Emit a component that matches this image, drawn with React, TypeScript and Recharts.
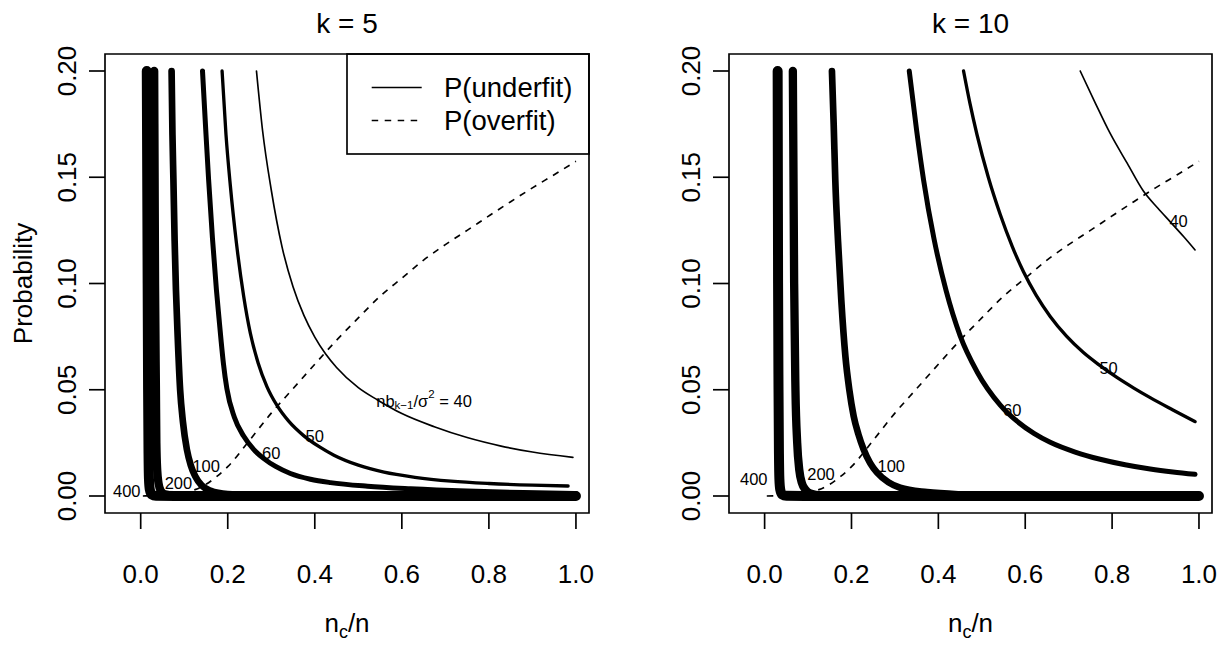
import React from 'react';
import { LineChart, Line, XAxis, YAxis, ReferenceArea, ReferenceDot } from 'recharts';

type Pt = [number, number];

const FONT = '"Liberation Sans", Arial, Helvetica, sans-serif';

const xTicks = [0, 0.2, 0.4, 0.6, 0.8, 1.0];
const yTicks = [0, 0.05, 0.1, 0.15, 0.2];
const xDomain: [number, number] = [-0.082, 1.03];
const yDomain: [number, number] = [-0.008, 0.208];

// P(overfit) - same dashed curve in both panels
const overfit: Pt[] = [
  [0.005, 0], [0.05, 0.0003], [0.1, 0.0016], [0.125, 0.003], [0.15, 0.0055], [0.175, 0.0092],
  [0.2, 0.0138], [0.25, 0.0262], [0.3, 0.039], [0.35, 0.0505], [0.4, 0.062], [0.45, 0.0733],
  [0.5, 0.0838], [0.55, 0.094], [0.6, 0.1025], [0.65, 0.111], [0.7, 0.1183], [0.75, 0.125],
  [0.8, 0.1318], [0.85, 0.1385], [0.9, 0.145], [0.95, 0.1512], [1.0, 0.1575],
];

// k = 5, P(underfit) for nb/sigma^2 = 40 ... 400
const k5u40: Pt[] = [
  [0.266, 0.2], [0.28, 0.172], [0.3, 0.144], [0.325, 0.117], [0.35, 0.0985], [0.375, 0.085],
  [0.4, 0.0748], [0.425, 0.0668], [0.45, 0.0605], [0.5, 0.051], [0.544, 0.0452], [0.6, 0.0388],
  [0.6745, 0.0326], [0.75, 0.0275], [0.828, 0.0235], [0.9, 0.0207], [0.993, 0.0182],
];
const k5u50: Pt[] = [
  [0.187, 0.2], [0.196, 0.17], [0.206, 0.146], [0.22, 0.119], [0.2366, 0.094], [0.252, 0.0765],
  [0.27, 0.0625], [0.29, 0.0515], [0.3135, 0.0425], [0.34, 0.0352], [0.375, 0.0283], [0.41, 0.0232],
  [0.444, 0.0192], [0.5, 0.0145], [0.559, 0.0112], [0.63, 0.0088], [0.713, 0.007], [0.8, 0.0059],
  [0.9, 0.0051], [0.982, 0.0047],
];
const k5u60: Pt[] = [
  [0.142, 0.2], [0.149, 0.174], [0.156, 0.149], [0.165, 0.121], [0.174, 0.097], [0.18, 0.0835],
  [0.185, 0.0725], [0.19, 0.0625], [0.198, 0.0505], [0.215, 0.0372], [0.2365, 0.0282], [0.26, 0.0218],
  [0.283, 0.0176], [0.31, 0.0139], [0.344, 0.0106], [0.39, 0.0079], [0.436, 0.0063], [0.521, 0.0046],
  [0.62, 0.0034], [0.75, 0.0023], [0.88, 0.0016], [1.0, 0.0012],
];
const k5u100: Pt[] = [
  [0.071, 0.2], [0.073, 0.17], [0.0752, 0.1487], [0.078, 0.12], [0.081, 0.097], [0.085, 0.075],
  [0.0906, 0.05], [0.097, 0.035], [0.106, 0.022], [0.115, 0.0145], [0.125, 0.0094], [0.14, 0.005],
  [0.16, 0.0025], [0.2, 0.0009], [0.3, 0.0002], [0.5, 0], [1.0, 0],
];
const k5u200: Pt[] = [
  [0.031, 0.2], [0.032, 0.15], [0.033, 0.1], [0.035, 0.05], [0.036, 0.025], [0.038, 0.012],
  [0.041, 0.006], [0.046, 0.0025], [0.055, 0.0008], [0.075, 0.0002], [0.2, 0], [1.0, 0],
];
const k5u400: Pt[] = [
  [0.014, 0.2], [0.015, 0.15], [0.016, 0.1], [0.017, 0.05], [0.018, 0.02], [0.019, 0.008],
  [0.021, 0.003], [0.025, 0.0008], [0.035, 0.0001], [0.1, 0], [1.0, 0],
];

// k = 10
const k10u40: Pt[] = [
  [0.7266, 0.2], [0.76, 0.1855], [0.7956, 0.1706], [0.835, 0.1565], [0.872, 0.1435],
  [0.905, 0.1355], [0.934, 0.129], [0.965, 0.122], [0.991, 0.1158],
];
const k10u50: Pt[] = [
  [0.458, 0.2], [0.473, 0.1845], [0.489, 0.17], [0.515, 0.15], [0.5425, 0.1325], [0.57, 0.1175],
  [0.596, 0.1055], [0.625, 0.0945], [0.6575, 0.0845], [0.695, 0.0752], [0.734, 0.0675], [0.77, 0.0617],
  [0.811, 0.0558], [0.85, 0.0508], [0.8877, 0.0463], [0.94, 0.0405], [0.991, 0.035],
];
const k10u60: Pt[] = [
  [0.333, 0.2], [0.35, 0.172], [0.366, 0.1487], [0.39, 0.121], [0.418, 0.0965], [0.45, 0.0755],
  [0.489, 0.0585], [0.5425, 0.0428], [0.581, 0.0352], [0.62, 0.0295], [0.6575, 0.0253], [0.715, 0.0207],
  [0.7725, 0.0173], [0.83, 0.0147], [0.8877, 0.0127], [0.94, 0.0113], [0.991, 0.0102],
];
const k10u100: Pt[] = [
  [0.155, 0.2], [0.159, 0.175], [0.1627, 0.1487], [0.169, 0.12], [0.1765, 0.0923], [0.186, 0.0657],
  [0.195, 0.05], [0.205, 0.0376], [0.216, 0.029], [0.228, 0.0219], [0.243, 0.0155], [0.259, 0.011],
  [0.285, 0.0065], [0.312, 0.0039], [0.374, 0.0018], [0.45, 0.0008], [0.6, 0.0002], [1.0, 0],
];
const k10u200: Pt[] = [
  [0.065, 0.2], [0.0665, 0.15], [0.068, 0.1], [0.071, 0.05], [0.075, 0.025], [0.08, 0.012],
  [0.086, 0.006], [0.094, 0.003], [0.105, 0.0012], [0.13, 0.0003], [0.25, 0], [1.0, 0],
];
const k10u400: Pt[] = [
  [0.03, 0.2], [0.0305, 0.15], [0.031, 0.1], [0.032, 0.05], [0.033, 0.02], [0.034, 0.008],
  [0.036, 0.003], [0.04, 0.0008], [0.05, 0.0001], [0.15, 0], [1.0, 0],
];

// curve labels (data coordinates)
const k5Labels = [
  { x: -0.032, y: 0.0023, text: '400' },
  { x: 0.0867, y: 0.0063, text: '200' },
  { x: 0.1505, y: 0.0141, text: '100' },
  { x: 0.3, y: 0.0204, text: '60' },
  { x: 0.4, y: 0.0282, text: '50' },
  { x: 0.651, y: 0.0446, text: 'long40' },
];
const k10Labels = [
  { x: -0.025, y: 0.0078, text: '400' },
  { x: 0.1298, y: 0.0102, text: '200' },
  { x: 0.2916, y: 0.0141, text: '100' },
  { x: 0.57, y: 0.0407, text: '60' },
  { x: 0.792, y: 0.0603, text: '50' },
  { x: 0.953, y: 0.1296, text: '40' },
];

const lineWidth: Record<number, number> = { 40: 1.67, 50: 3.33, 60: 5, 100: 6.67, 200: 8.33, 400: 10 };

const toRows = (pts: Pt[]) => pts.map(([x, y]) => ({ x, y }));

const CurveLabel = ({ cx, cy, text }: any) => {
  if (text === 'long40') {
    return (
      <text x={cx} y={cy} textAnchor="middle" dominantBaseline="central" fontSize={16.5} fontFamily={FONT} fill="#000">
        nb<tspan fontSize={11.5} dy={4}>k−1</tspan>
        <tspan dy={-4}>/σ</tspan>
        <tspan fontSize={11.5} dy={-7}>2</tspan>
        <tspan dy={7}> = 40</tspan>
      </text>
    );
  }
  return (
    <text x={cx} y={cy} textAnchor="middle" dominantBaseline="central" fontSize={16.5} fontFamily={FONT} fill="#000">
      {text}
    </text>
  );
};

const YTick = ({ x, y, payload }: any) => (
  <text x={x} y={y} transform={`rotate(-90, ${x}, ${y})`} textAnchor="middle" fontSize={26} fontFamily={FONT} fill="#000">
    {payload.value.toFixed(2)}
  </text>
);

interface PanelProps {
  curves: { level: number; pts: Pt[] }[];
  labels: { x: number; y: number; text: string }[];
  yAxisWidth: number;
  rightMargin: number;
}

const Panel = ({ curves, labels, yAxisWidth, rightMargin }: PanelProps) => (
  <LineChart width={614} height={645} margin={{ top: 54, right: rightMargin, bottom: 0, left: 0 }}>
    <XAxis
      type="number"
      dataKey="x"
      domain={xDomain}
      ticks={xTicks}
      allowDataOverflow
      height={132}
      axisLine={false}
      tickSize={16}
      tickMargin={36}
      tickLine={{ stroke: '#000', strokeWidth: 1.67 }}
      tick={{ fontSize: 26, fill: '#000', fontFamily: FONT }}
      tickFormatter={(v: number) => v.toFixed(1)}
    />
    <YAxis
      type="number"
      domain={yDomain}
      ticks={yTicks}
      allowDataOverflow
      width={yAxisWidth}
      axisLine={false}
      tickSize={16}
      tickMargin={13}
      tickLine={{ stroke: '#000', strokeWidth: 1.67 }}
      tick={<YTick />}
    />
    <ReferenceArea
      x1={xDomain[0]}
      x2={xDomain[1]}
      y1={yDomain[0]}
      y2={yDomain[1]}
      fill="none"
      stroke="#000"
      strokeWidth={1.67}
      ifOverflow="visible"
    />
    <Line
      data={toRows(overfit)}
      dataKey="y"
      type="monotone"
      stroke="#000"
      strokeWidth={1.67}
      strokeDasharray="6.5 6.5"
      dot={false}
      activeDot={false}
      isAnimationActive={false}
    />
    {curves.map((c) => (
      <Line
        key={c.level}
        data={toRows(c.pts)}
        dataKey="y"
        type="monotone"
        stroke="#000"
        strokeWidth={lineWidth[c.level]}
        strokeLinecap="round"
        strokeLinejoin="round"
        dot={false}
        activeDot={false}
        isAnimationActive={false}
      />
    ))}
    {labels.map((l) => (
      <ReferenceDot
        key={l.text}
        x={l.x}
        y={l.y}
        r={0}
        ifOverflow="visible"
        shape={(p: any) => <CurveLabel {...p} text={l.text} />}
      />
    ))}
  </LineChart>
);

const k5Curves = [
  { level: 40, pts: k5u40 }, { level: 50, pts: k5u50 }, { level: 60, pts: k5u60 },
  { level: 100, pts: k5u100 }, { level: 200, pts: k5u200 }, { level: 400, pts: k5u400 },
];
const k10Curves = [
  { level: 40, pts: k10u40 }, { level: 50, pts: k10u50 }, { level: 60, pts: k10u60 },
  { level: 100, pts: k10u100 }, { level: 200, pts: k10u200 }, { level: 400, pts: k10u400 },
];

const legendItems = [
  { label: 'P(underfit)', dash: undefined },
  { label: 'P(overfit)', dash: '6.5 6.5' },
];

const XLabel = ({ x }: { x: number }) => (
  <text x={x} y={632} textAnchor="middle" fontSize={26} fontFamily={FONT} fill="#000">
    n<tspan fontSize={18} dy={6}>c</tspan>
    <tspan dy={-6}>/n</tspan>
  </text>
);

export default function App() {
  return (
    <div style={{ position: 'absolute', left: 0, top: 0, width: 1228, height: 645, background: '#fff' }}>
      <div style={{ position: 'absolute', left: 0, top: 0 }}>
        <Panel curves={k5Curves} labels={k5Labels} yAxisWidth={105} rightMargin={25} />
      </div>
      <div style={{ position: 'absolute', left: 614, top: 0 }}>
        <Panel curves={k10Curves} labels={k10Labels} yAxisWidth={115} rightMargin={16} />
      </div>
      <svg width={1228} height={645} style={{ position: 'absolute', left: 0, top: 0, pointerEvents: 'none' }}>
        <text x={347} y={33} textAnchor="middle" fontSize={28} fontFamily={FONT} fill="#000">
          k = 5
        </text>
        <text x={970.5} y={33} textAnchor="middle" fontSize={28} fontFamily={FONT} fill="#000">
          k = 10
        </text>
        <XLabel x={347} />
        <XLabel x={970.5} />
        <text
          x={32}
          y={283.5}
          transform="rotate(-90, 32, 283.5)"
          textAnchor="middle"
          fontSize={26}
          fontFamily={FONT}
          fill="#000"
        >
          Probability
        </text>
        <rect x={347} y={54} width={242} height={100} fill="none" stroke="#000" strokeWidth={1.67} />
        {legendItems.map((item, i) => (
          <g key={item.label}>
            <line
              x1={371.7}
              x2={421.7}
              y1={87.5 + i * 33}
              y2={87.5 + i * 33}
              stroke="#000"
              strokeWidth={1.67}
              strokeDasharray={item.dash}
            />
            <text x={444} y={87.5 + i * 33} dominantBaseline="central" fontSize={27.5} fontFamily={FONT} fill="#000">
              {item.label}
            </text>
          </g>
        ))}
      </svg>
    </div>
  );
}
